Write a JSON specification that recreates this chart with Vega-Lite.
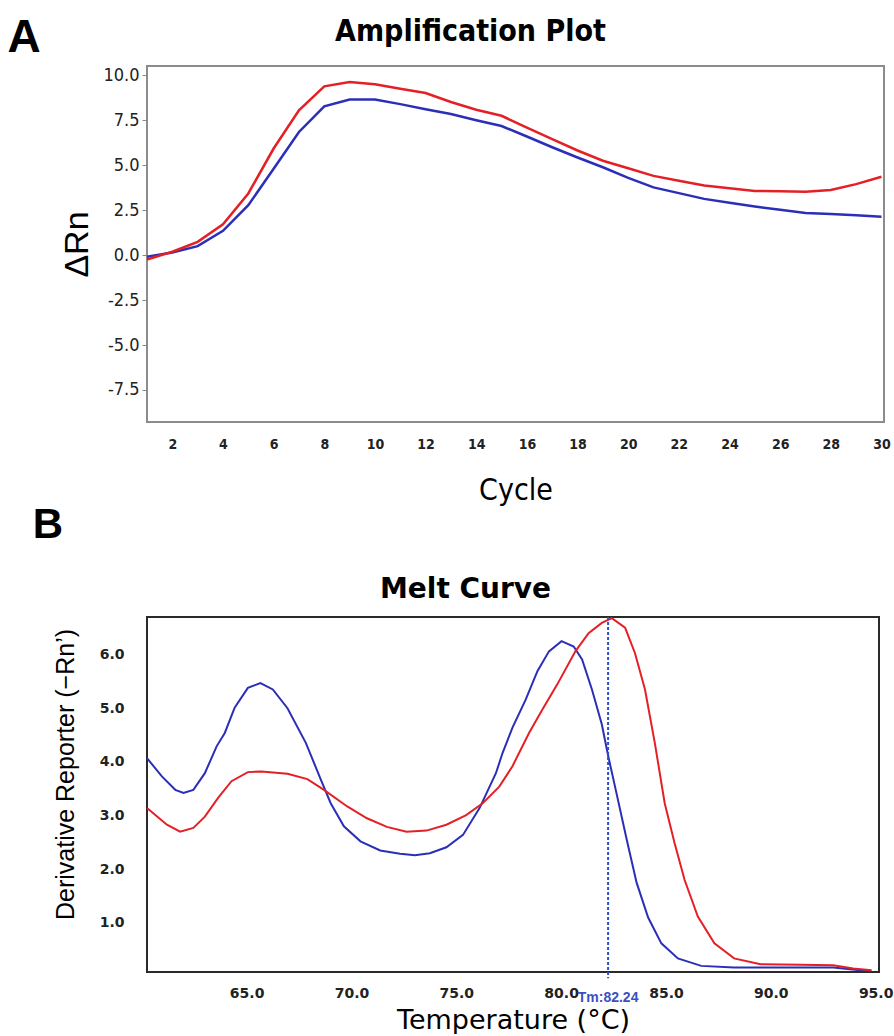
{
  "$schema": "https://vega.github.io/schema/vega-lite/v6.json",
  "padding": {"left": 6, "top": 14, "right": 0, "bottom": 0},
  "spacing": -3,
  "background": "white",
  "config": {"view": {"stroke": null}},
  "vconcat": [
    {
      "width": 737,
      "height": 356,
      "view": {"stroke": "#8c8c8c", "strokeWidth": 2},
      "resolve": {"axis": {"x": "independent", "y": "independent"}},
      "layer": [
        {
          "data": {"values": [
            {"cycle": 1, "sample": "Sample 2", "dRn": -0.09}, {"cycle": 2, "sample": "Sample 2", "dRn": 0.15}, {"cycle": 3, "sample": "Sample 2", "dRn": 0.5}, {"cycle": 4, "sample": "Sample 2", "dRn": 1.35}, {"cycle": 5, "sample": "Sample 2", "dRn": 2.78}, {"cycle": 6, "sample": "Sample 2", "dRn": 4.81}, {"cycle": 7, "sample": "Sample 2", "dRn": 6.85}, {"cycle": 8, "sample": "Sample 2", "dRn": 8.28}, {"cycle": 9, "sample": "Sample 2", "dRn": 8.65}, {"cycle": 10, "sample": "Sample 2", "dRn": 8.65},
            {"cycle": 11, "sample": "Sample 2", "dRn": 8.4}, {"cycle": 12, "sample": "Sample 2", "dRn": 8.12}, {"cycle": 13, "sample": "Sample 2", "dRn": 7.85}, {"cycle": 14, "sample": "Sample 2", "dRn": 7.5}, {"cycle": 15, "sample": "Sample 2", "dRn": 7.18}, {"cycle": 16, "sample": "Sample 2", "dRn": 6.6}, {"cycle": 17, "sample": "Sample 2", "dRn": 6.0}, {"cycle": 18, "sample": "Sample 2", "dRn": 5.43}, {"cycle": 19, "sample": "Sample 2", "dRn": 4.89}, {"cycle": 20, "sample": "Sample 2", "dRn": 4.3},
            {"cycle": 21, "sample": "Sample 2", "dRn": 3.77}, {"cycle": 22, "sample": "Sample 2", "dRn": 3.45}, {"cycle": 23, "sample": "Sample 2", "dRn": 3.13}, {"cycle": 24, "sample": "Sample 2", "dRn": 2.92}, {"cycle": 25, "sample": "Sample 2", "dRn": 2.71}, {"cycle": 26, "sample": "Sample 2", "dRn": 2.52}, {"cycle": 27, "sample": "Sample 2", "dRn": 2.35}, {"cycle": 28, "sample": "Sample 2", "dRn": 2.29}, {"cycle": 29, "sample": "Sample 2", "dRn": 2.22}, {"cycle": 30, "sample": "Sample 2", "dRn": 2.13},
            {"cycle": 1, "sample": "Sample 1", "dRn": -0.24}, {"cycle": 2, "sample": "Sample 1", "dRn": 0.19}, {"cycle": 3, "sample": "Sample 1", "dRn": 0.74}, {"cycle": 4, "sample": "Sample 1", "dRn": 1.72}, {"cycle": 5, "sample": "Sample 1", "dRn": 3.43}, {"cycle": 6, "sample": "Sample 1", "dRn": 5.93}, {"cycle": 7, "sample": "Sample 1", "dRn": 8.06}, {"cycle": 8, "sample": "Sample 1", "dRn": 9.39}, {"cycle": 9, "sample": "Sample 1", "dRn": 9.63}, {"cycle": 10, "sample": "Sample 1", "dRn": 9.5},
            {"cycle": 11, "sample": "Sample 1", "dRn": 9.26}, {"cycle": 12, "sample": "Sample 1", "dRn": 9.02}, {"cycle": 13, "sample": "Sample 1", "dRn": 8.52}, {"cycle": 14, "sample": "Sample 1", "dRn": 8.09}, {"cycle": 15, "sample": "Sample 1", "dRn": 7.75}, {"cycle": 16, "sample": "Sample 1", "dRn": 7.09}, {"cycle": 17, "sample": "Sample 1", "dRn": 6.45}, {"cycle": 18, "sample": "Sample 1", "dRn": 5.82}, {"cycle": 19, "sample": "Sample 1", "dRn": 5.25}, {"cycle": 20, "sample": "Sample 1", "dRn": 4.83},
            {"cycle": 21, "sample": "Sample 1", "dRn": 4.41}, {"cycle": 22, "sample": "Sample 1", "dRn": 4.14}, {"cycle": 23, "sample": "Sample 1", "dRn": 3.87}, {"cycle": 24, "sample": "Sample 1", "dRn": 3.72}, {"cycle": 25, "sample": "Sample 1", "dRn": 3.57}, {"cycle": 26, "sample": "Sample 1", "dRn": 3.55}, {"cycle": 27, "sample": "Sample 1", "dRn": 3.52}, {"cycle": 28, "sample": "Sample 1", "dRn": 3.62}, {"cycle": 29, "sample": "Sample 1", "dRn": 3.95}, {"cycle": 30, "sample": "Sample 1", "dRn": 4.36}
          ]},
          "mark": {"type": "line", "strokeWidth": 2.5},
          "encoding": {
            "x": {"field": "cycle", "type": "quantitative",
              "scale": {"domain": [1, 30.1], "nice": false, "zero": false},
              "axis": {"title": "Cycle", "orient": "bottom", "values": [2,4,6,8,10,12,14,16,18,20,22,24,26,28,30], "grid": false, "ticks": false, "domain": false,
                "labelFont": "DejaVu Sans Condensed, sans-serif", "labelFontSize": 14, "labelFontWeight": "bold", "labelColor": "#222222", "labelPadding": 15,
                "titleFont": "DejaVu Sans Condensed, sans-serif", "titleFontSize": 30, "titleFontWeight": "normal", "titleColor": "#000000", "titlePadding": 24}},
            "y": {"field": "dRn", "type": "quantitative",
              "scale": {"domain": [-9.28, 10.52], "nice": false, "zero": false},
              "axis": {"title": "ΔRn", "orient": "left", "values": [-7.5,-5,-2.5,0,2.5,5,7.5,10], "labelExpr": "replace(format(datum.value, '.1f'), '\u2212', '-')", "grid": false, "domain": false, "ticks": true, "tickSize": 5, "tickColor": "#888888",
                "labelFont": "DejaVu Sans Condensed, sans-serif", "labelFontSize": 18, "labelColor": "#222222", "labelPadding": 3,
                "titleFont": "Liberation Sans, Arial, sans-serif", "titleFontSize": 34, "titleFontWeight": "normal", "titleColor": "#000000", "titlePadding": 8}},
            "color": {"field": "sample", "type": "nominal", "scale": {"domain": ["Sample 1", "Sample 2"], "range": ["#e42026", "#2b2fb8"]}, "legend": null},
            "order": {"field": "sample", "sort": "descending"}
          }
        },
        {
          "data": {"values": [{"panel": "A"}]},
          "mark": {"type": "text", "font": "Liberation Sans, Arial, sans-serif", "fontSize": 46, "fontWeight": "bold", "color": "#000000", "baseline": "middle", "align": "center"},
          "encoding": {
            "x": {"datum": -3.85, "type": "quantitative",
              "axis": {"orient": "top", "title": "Amplification Plot", "labels": false, "ticks": false, "domain": false, "grid": false,
                "titleFont": "DejaVu Sans Condensed, sans-serif", "titleFontSize": 30, "titleFontWeight": "bold", "titleColor": "#000000", "titleX": 323, "titleAlign": "center", "titlePadding": 20}},
            "y": {"datum": 12.06, "type": "quantitative", "axis": null},
            "text": {"field": "panel"}
          }
        }
      ]
    },
    {
      "width": 732,
      "height": 355,
      "view": {"stroke": "#2a2a2a", "strokeWidth": 2},
      "resolve": {"axis": {"x": "independent", "y": "independent"}},
      "layer": [
        {
          "data": {"values": [
            {"temp": 60.25, "sample": "Sample 2", "deriv": 4.07}, {"temp": 60.96, "sample": "Sample 2", "deriv": 3.73}, {"temp": 61.6, "sample": "Sample 2", "deriv": 3.48}, {"temp": 61.99, "sample": "Sample 2", "deriv": 3.42}, {"temp": 62.46, "sample": "Sample 2", "deriv": 3.48}, {"temp": 63.01, "sample": "Sample 2", "deriv": 3.79}, {"temp": 63.57, "sample": "Sample 2", "deriv": 4.29}, {"temp": 63.96, "sample": "Sample 2", "deriv": 4.54}, {"temp": 64.43, "sample": "Sample 2", "deriv": 5.01}, {"temp": 65.06, "sample": "Sample 2", "deriv": 5.38},
            {"temp": 65.66, "sample": "Sample 2", "deriv": 5.47}, {"temp": 66.25, "sample": "Sample 2", "deriv": 5.35}, {"temp": 66.95, "sample": "Sample 2", "deriv": 5.0}, {"temp": 67.83, "sample": "Sample 2", "deriv": 4.35}, {"temp": 68.53, "sample": "Sample 2", "deriv": 3.68}, {"temp": 69.01, "sample": "Sample 2", "deriv": 3.23}, {"temp": 69.64, "sample": "Sample 2", "deriv": 2.8}, {"temp": 70.43, "sample": "Sample 2", "deriv": 2.52}, {"temp": 71.37, "sample": "Sample 2", "deriv": 2.35}, {"temp": 72.32, "sample": "Sample 2", "deriv": 2.29},
            {"temp": 73.03, "sample": "Sample 2", "deriv": 2.26}, {"temp": 73.74, "sample": "Sample 2", "deriv": 2.3}, {"temp": 74.53, "sample": "Sample 2", "deriv": 2.41}, {"temp": 75.32, "sample": "Sample 2", "deriv": 2.64}, {"temp": 76.11, "sample": "Sample 2", "deriv": 3.14}, {"temp": 76.89, "sample": "Sample 2", "deriv": 3.79}, {"temp": 77.21, "sample": "Sample 2", "deriv": 4.17}, {"temp": 77.68, "sample": "Sample 2", "deriv": 4.64}, {"temp": 78.31, "sample": "Sample 2", "deriv": 5.16}, {"temp": 78.87, "sample": "Sample 2", "deriv": 5.69},
            {"temp": 79.42, "sample": "Sample 2", "deriv": 6.06}, {"temp": 80.02, "sample": "Sample 2", "deriv": 6.25}, {"temp": 80.6, "sample": "Sample 2", "deriv": 6.15}, {"temp": 81.0, "sample": "Sample 2", "deriv": 5.91}, {"temp": 81.47, "sample": "Sample 2", "deriv": 5.35}, {"temp": 81.94, "sample": "Sample 2", "deriv": 4.7}, {"temp": 82.24, "sample": "Sample 2", "deriv": 4.12}, {"temp": 82.65, "sample": "Sample 2", "deriv": 3.4}, {"temp": 83.13, "sample": "Sample 2", "deriv": 2.55}, {"temp": 83.6, "sample": "Sample 2", "deriv": 1.75},
            {"temp": 84.15, "sample": "Sample 2", "deriv": 1.1}, {"temp": 84.78, "sample": "Sample 2", "deriv": 0.62}, {"temp": 85.57, "sample": "Sample 2", "deriv": 0.34}, {"temp": 86.68, "sample": "Sample 2", "deriv": 0.2}, {"temp": 88.25, "sample": "Sample 2", "deriv": 0.17}, {"temp": 90.62, "sample": "Sample 2", "deriv": 0.17}, {"temp": 92.98, "sample": "Sample 2", "deriv": 0.17}, {"temp": 94.25, "sample": "Sample 2", "deriv": 0.12}, {"temp": 94.8, "sample": "Sample 2", "deriv": 0.11},
            {"temp": 60.25, "sample": "Sample 1", "deriv": 3.14}, {"temp": 61.2, "sample": "Sample 1", "deriv": 2.83}, {"temp": 61.83, "sample": "Sample 1", "deriv": 2.7}, {"temp": 62.46, "sample": "Sample 1", "deriv": 2.77}, {"temp": 63.01, "sample": "Sample 1", "deriv": 2.98}, {"temp": 63.64, "sample": "Sample 1", "deriv": 3.33}, {"temp": 64.28, "sample": "Sample 1", "deriv": 3.64}, {"temp": 65.06, "sample": "Sample 1", "deriv": 3.81}, {"temp": 65.7, "sample": "Sample 1", "deriv": 3.82}, {"temp": 66.95, "sample": "Sample 1", "deriv": 3.78},
            {"temp": 67.9, "sample": "Sample 1", "deriv": 3.68}, {"temp": 68.69, "sample": "Sample 1", "deriv": 3.48}, {"temp": 69.8, "sample": "Sample 1", "deriv": 3.17}, {"temp": 70.74, "sample": "Sample 1", "deriv": 2.95}, {"temp": 71.69, "sample": "Sample 1", "deriv": 2.79}, {"temp": 72.63, "sample": "Sample 1", "deriv": 2.7}, {"temp": 73.58, "sample": "Sample 1", "deriv": 2.72}, {"temp": 74.53, "sample": "Sample 1", "deriv": 2.83}, {"temp": 75.47, "sample": "Sample 1", "deriv": 3.01}, {"temp": 76.26, "sample": "Sample 1", "deriv": 3.23},
            {"temp": 77.05, "sample": "Sample 1", "deriv": 3.54}, {"temp": 77.68, "sample": "Sample 1", "deriv": 3.92}, {"temp": 78.47, "sample": "Sample 1", "deriv": 4.54}, {"temp": 79.1, "sample": "Sample 1", "deriv": 4.97}, {"temp": 79.81, "sample": "Sample 1", "deriv": 5.44}, {"temp": 80.68, "sample": "Sample 1", "deriv": 6.06}, {"temp": 81.31, "sample": "Sample 1", "deriv": 6.4}, {"temp": 81.94, "sample": "Sample 1", "deriv": 6.59}, {"temp": 82.42, "sample": "Sample 1", "deriv": 6.68}, {"temp": 83.05, "sample": "Sample 1", "deriv": 6.5},
            {"temp": 83.52, "sample": "Sample 1", "deriv": 6.03}, {"temp": 84.0, "sample": "Sample 1", "deriv": 5.35}, {"temp": 84.47, "sample": "Sample 1", "deriv": 4.35}, {"temp": 84.94, "sample": "Sample 1", "deriv": 3.23}, {"temp": 85.41, "sample": "Sample 1", "deriv": 2.49}, {"temp": 85.89, "sample": "Sample 1", "deriv": 1.8}, {"temp": 86.52, "sample": "Sample 1", "deriv": 1.12}, {"temp": 87.31, "sample": "Sample 1", "deriv": 0.62}, {"temp": 88.25, "sample": "Sample 1", "deriv": 0.34}, {"temp": 89.51, "sample": "Sample 1", "deriv": 0.23},
            {"temp": 91.41, "sample": "Sample 1", "deriv": 0.22}, {"temp": 92.98, "sample": "Sample 1", "deriv": 0.21}, {"temp": 93.93, "sample": "Sample 1", "deriv": 0.15}, {"temp": 94.8, "sample": "Sample 1", "deriv": 0.12}
          ]},
          "mark": {"type": "line", "strokeWidth": 2},
          "encoding": {
            "x": {"field": "temp", "type": "quantitative",
              "scale": {"domain": [60.25, 95.16], "nice": false, "zero": false},
              "axis": {"title": "Temperature (°C)", "orient": "bottom", "values": [65,70,75,80,85,90,95], "format": ".1f", "grid": false, "ticks": false, "domain": false,
                "labelFont": "DejaVu Sans, sans-serif", "labelFontSize": 14, "labelFontWeight": "bold", "labelColor": "#222222", "labelPadding": 14,
                "titleFont": "DejaVu Sans, sans-serif", "titleFontSize": 27, "titleFontWeight": "normal", "titleColor": "#000000", "titlePadding": 7}},
            "y": {"field": "deriv", "type": "quantitative",
              "scale": {"domain": [0.086, 6.7], "nice": false, "zero": false},
              "axis": {"title": "Derivative Reporter (−Rn’)", "orient": "left", "values": [1,2,3,4,5,6], "format": ".1f", "grid": false, "domain": false, "ticks": false,
                "labelFont": "DejaVu Sans, sans-serif", "labelFontSize": 14, "labelFontWeight": "bold", "labelColor": "#222222", "labelPadding": 23,
                "titleFont": "Liberation Sans, Arial, sans-serif", "titleFontSize": 25, "titleFontWeight": "normal", "titleColor": "#000000", "titlePadding": 21, "titleY": 157}},
            "color": {"field": "sample", "type": "nominal", "scale": {"domain": ["Sample 1", "Sample 2"], "range": ["#e6262b", "#3a3d98"]}, "legend": null},
            "order": {"field": "sample"}
          }
        },
        {
          "data": {"values": [{"tm": 82.24, "label": "Tm:82.24", "top": 6.7, "bottom": -0.03}]},
          "layer": [
            {
              "mark": {"type": "rule", "color": "#2a4fcf", "strokeWidth": 2, "strokeDash": [3, 2]},
              "encoding": {
                "x": {"field": "tm", "type": "quantitative", "axis": null},
                "y": {"field": "top", "type": "quantitative", "axis": null},
                "y2": {"field": "bottom"}
              }
            },
            {
              "mark": {"type": "text", "font": "Liberation Sans, Arial, sans-serif", "fontSize": 14, "fontWeight": "bold", "color": "#3b4fc4", "baseline": "middle", "align": "center", "dy": 26},
              "encoding": {
                "x": {"field": "tm", "type": "quantitative", "axis": null},
                "y": {"datum": 0.086, "type": "quantitative", "axis": null},
                "text": {"field": "label"}
              }
            }
          ]
        },
        {
          "data": {"values": [{"panel": "B"}]},
          "mark": {"type": "text", "font": "Liberation Sans, Arial, sans-serif", "fontSize": 42, "fontWeight": "bold", "color": "#000000", "baseline": "middle", "align": "center"},
          "encoding": {
            "x": {"datum": 55.53, "type": "quantitative",
              "axis": {"orient": "top", "title": "Melt Curve", "labels": false, "ticks": false, "domain": false, "grid": false,
                "titleFont": "DejaVu Sans, sans-serif", "titleFontSize": 28, "titleFontWeight": "bold", "titleColor": "#000000", "titleX": 318, "titleAlign": "center", "titlePadding": 14}},
            "y": {"datum": 8.41, "type": "quantitative", "axis": null},
            "text": {"field": "panel"}
          }
        }
      ]
    }
  ]
}
